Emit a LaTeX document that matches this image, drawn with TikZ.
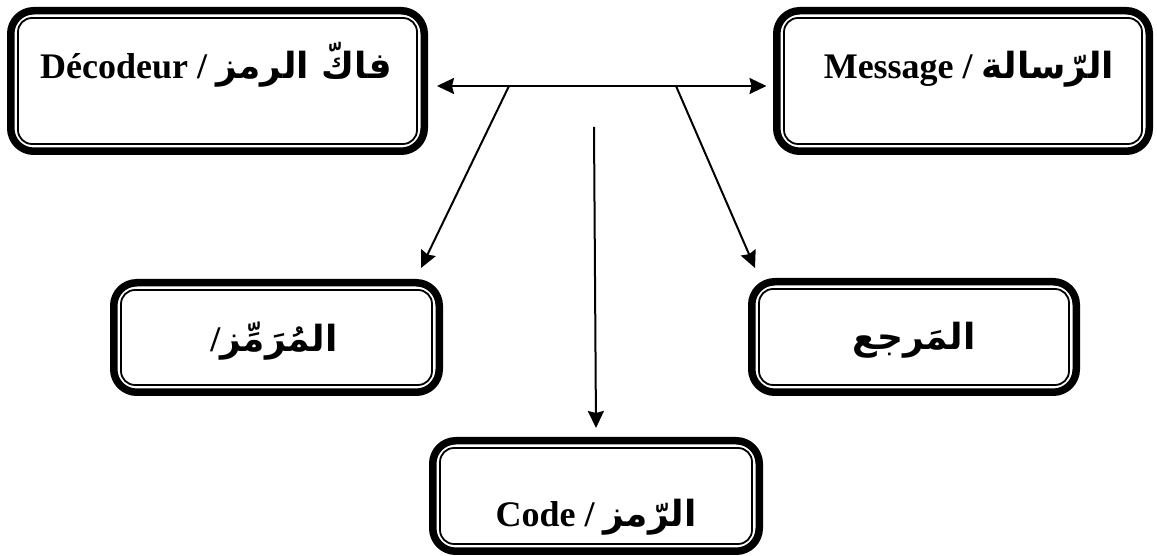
\documentclass[tikz,border=0pt]{standalone}
\usepackage{fontspec}
\setmainfont{Liberation Serif}
\newfontfamily\arabicfont[Script=Arabic]{DejaVu Sans}
\TeXXeTstate=1
\usetikzlibrary{arrows.meta}
\begin{document}
\begin{tikzpicture}[x=1pt,y=1pt,
  box/.style={draw, line width=7.5pt, rounded corners=23pt, inner sep=0pt, outer sep=0pt},
  innerline/.style={draw, line width=1.8pt, rounded corners=14pt},
  lbl/.style={anchor=base, inner sep=0pt, font=\fontsize{36}{42}\selectfont\bfseries},
  tip/.tip={Stealth[length=17pt,width=16pt,inset=2pt]},
  arr/.style={line width=2pt, -tip},
  darr/.style={line width=2pt, tip-tip}]
\useasboundingbox (0,0) rectangle (1157,556);
% boxes
\node[box, minimum width=413.5pt, minimum height=140.5pt] (A) at (217.5,475) {};
\node[box, minimum width=372.5pt, minimum height=140.5pt] (B) at (963,475) {};
\node[box, minimum width=325.5pt, minimum height=109.5pt] (C) at (276.5,218.5) {};
\node[box, minimum width=324.5pt, minimum height=110.5pt] (D) at (914,219) {};
\node[box, minimum width=326.5pt, minimum height=110.5pt] (E) at (596,60) {};
\foreach \n in {A,B,C,D,E}{
  \draw[innerline] ([shift={(7.25,-7.25)}]\n.north west) rectangle ([shift={(-7.25,7.25)}]\n.south east);
}
% labels
\node[lbl] (tA) at (216,477) {Décodeur / {\arabicfont\beginR فاكّ الرمز\endR}};
\node[lbl] (tB) at (969,477) {Message / {\arabicfont\beginR الرّسالة\endR}};
\node[lbl] (tC) at (274,204) {/{\arabicfont\beginR المُرَمِّز\endR}};
\node[lbl] (tD) at (914,206) {{\arabicfont\beginR المَرجع\endR}};
\node[lbl] (tE) at (596,29) {Code / {\arabicfont\beginR الرّمز\endR}};
% connectors
\coordinate (p1) at (509,470);
\coordinate (p2) at (676,470);
\coordinate (p3) at (594,429);
\draw[darr] ([xshift=12.75pt,yshift=-5pt]A.east) -- ([xshift=-10.25pt,yshift=-5pt]B.west);
\draw[arr] (p1) -- ([shift={(-18.25,14.75)}]C.north east);
\draw[arr] (p2) -- ([shift={(3.25,13.75)}]D.north west);
\draw[arr] (p3) -- ([yshift=12.75pt]E.north);
\end{tikzpicture}
\end{document}
